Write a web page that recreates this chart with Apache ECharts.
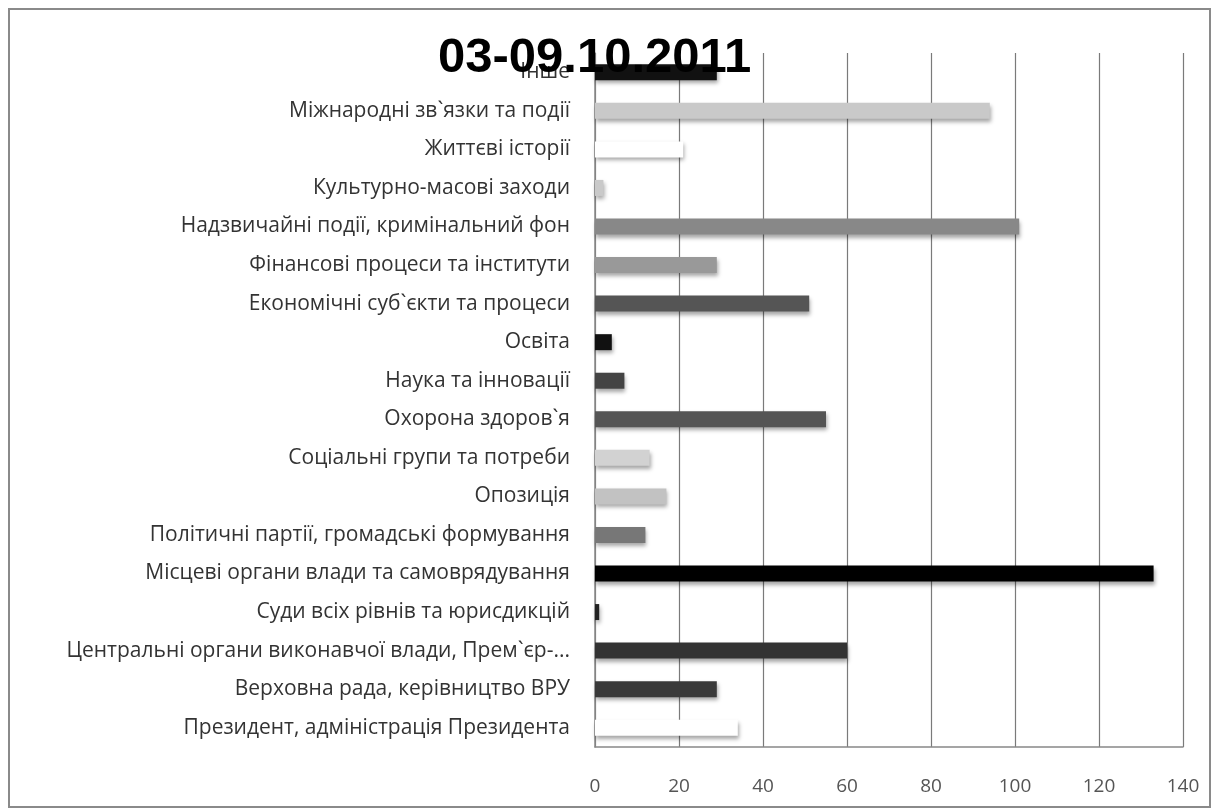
<!DOCTYPE html>
<html>
<head>
<meta charset="utf-8">
<script src="https://cdn.jsdelivr.net/npm/echarts@6/dist/echarts.min.js"></script>
<style>
html,body{margin:0;padding:0;background:#fff;}
#chart{width:1213px;height:810px;}
</style>
</head>
<body>
<div id="chart"></div>
<script>
const titleText = "03-09.10.2011";
const categories = [
  "Інше",
  "Міжнародні зв`язки та події",
  "Життєві історії",
  "Культурно-масові заходи",
  "Надзвичайні події, кримінальний фон",
  "Фінансові процеси та інститути",
  "Економічні суб`єкти та процеси",
  "Освіта",
  "Наука та інновації",
  "Охорона здоров`я",
  "Соціальні групи та потреби",
  "Опозиція",
  "Політичні партії, громадські формування",
  "Місцеві органи влади та самоврядування",
  "Суди всіх рівнів та юрисдикцій",
  "Центральні органи виконавчої влади, Прем`єр-...",
  "Верховна рада, керівництво ВРУ",
  "Президент, адміністрація Президента"
];
const values = [29, 94, 21, 2, 101, 29, 51, 4, 7, 55, 13, 17, 12, 133, 1, 60, 29, 34];
const xTicks = [0, 20, 40, 60, 80, 100, 120, 140];

const barColors = ["#111111","#c9c9c9","#ffffff","#c9c9c9","#888888","#999999","#555555","#111111","#444444","#555555","#d2d2d2","#c2c2c2","#777777","#000000","#222222","#333333","#3a3a3a","#ffffff"];

const chart = echarts.init(document.getElementById('chart'), null, {renderer: 'canvas'});
const option = {
  backgroundColor: '#ffffff',
  animation: false,
  title: {
    text: titleText,
    left: 433,
    top: 29,
    textStyle: {fontFamily: 'Liberation Sans', fontWeight: 'bold', fontSize: 49, color: '#000'}
  },
  graphic: [{
    type: 'rect',
    shape: {x: 9, y: 9, width: 1201, height: 798},
    style: {fill: 'none', stroke: '#8a8a8a', lineWidth: 2},
    silent: true
  }],
  grid: {left: 595, right: 30, top: 53, bottom: 63, containLabel: false},
  xAxis: {
    type: 'value',
    min: xTicks[0],
    max: xTicks[xTicks.length - 1],
    interval: 20,
    axisLine: {show: true, lineStyle: {color: '#888', width: 1.5}},
    axisTick: {show: false},
    splitLine: {show: true, lineStyle: {color: '#7a7a7a', width: 1.2}},
    axisLabel: {color: '#555', fontSize: 19, fontFamily: 'Open Sans', margin: 30}
  },
  yAxis: {
    type: 'category',
    inverse: true,
    data: categories,
    axisLine: {show: true, lineStyle: {color: '#888', width: 1.5}},
    axisTick: {show: false},
    axisLabel: {color: '#333', fontSize: 21, fontFamily: 'Open Sans', margin: 25}
  },
  series: [{
    type: 'bar',
    barWidth: 16,
    data: values.map((v, i) => ({
      value: v,
      itemStyle: {color: barColors[i]}
    })),
    itemStyle: {
      shadowColor: 'rgba(0,0,0,0.35)',
      shadowBlur: 4,
      shadowOffsetX: 1,
      shadowOffsetY: 3
    },
    z: 3
  }]
};
chart.setOption(option);
</script>
</body>
</html>
